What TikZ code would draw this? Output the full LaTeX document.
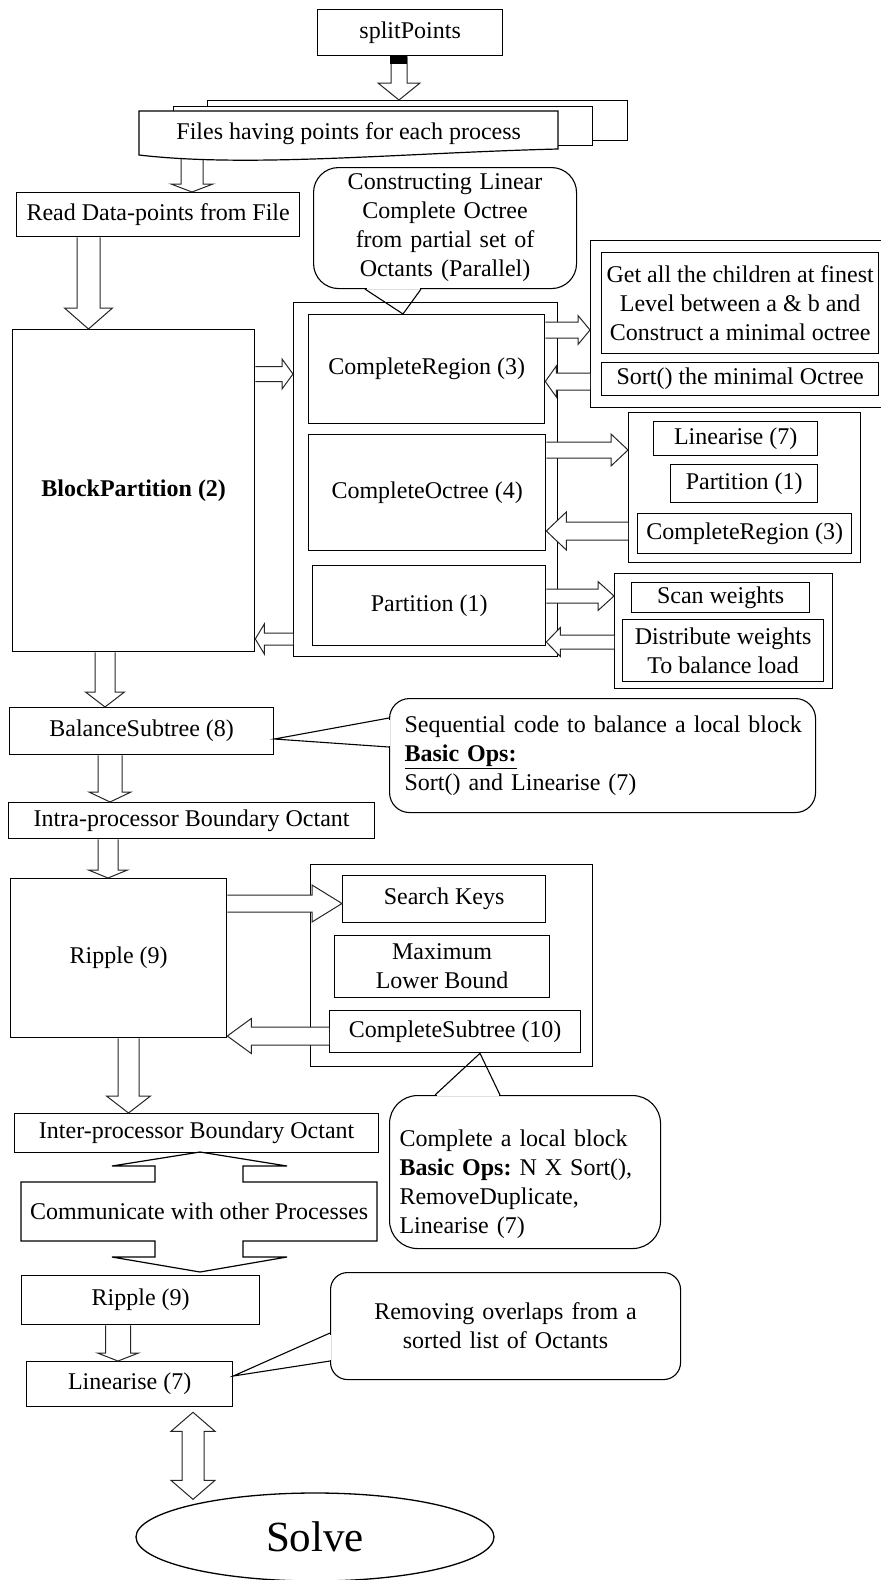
\documentclass[tikz,border=0pt]{standalone}
\usepackage{fontspec}
\setmainfont{Liberation Serif}
\usetikzlibrary{calc,shapes.geometric}
\newcommand\fs{\fontsize{24}{29}\selectfont\frenchspacing}
\tikzset{
  bx/.style={draw, line width=1.3pt, fill=white, inner sep=0pt, anchor=north west, align=center, font=\fs},
  contbox/.style={draw, line width=1.3pt, inner sep=0pt, anchor=north west},
  blk/.style={draw=black!85, line width=1pt, fill=white, line join=miter},
  cout/.style={draw, line width=1.1pt, fill=white, inner ysep=0pt, anchor=north west, font=\fs},
  ptr/.style={line width=1.1pt},
}
% hollow block arrow: from, to, shaft half width, head half width, head length
\newcommand\barrow[5]{%
  \draw[blk] let \p1=(#1), \p2=(#2), \n1={veclen(\x2-\x1,\y2-\y1)},
    \n2={(\x2-\x1)/\n1}, \n3={(\y2-\y1)/\n1} in
  ({\x1-(\n3)*#3},{\y1+(\n2)*#3}) --
  ({\x2-(\n2)*#5-(\n3)*#3},{\y2-(\n3)*#5+(\n2)*#3}) --
  ({\x2-(\n2)*#5-(\n3)*#4},{\y2-(\n3)*#5+(\n2)*#4}) --
  (\x2,\y2) --
  ({\x2-(\n2)*#5+(\n3)*#4},{\y2-(\n3)*#5-(\n2)*#4}) --
  ({\x2-(\n2)*#5+(\n3)*#3},{\y2-(\n3)*#5-(\n2)*#3}) --
  ({\x1+(\n3)*#3},{\y1-(\n2)*#3});
}
% double-headed block arrow
\newcommand\dbarrow[5]{%
  \draw[blk] let \p1=(#1), \p2=(#2), \n1={veclen(\x2-\x1,\y2-\y1)},
    \n2={(\x2-\x1)/\n1}, \n3={(\y2-\y1)/\n1} in
  (\x1,\y1) --
  ({\x1+(\n2)*#5-(\n3)*#4},{\y1+(\n3)*#5+(\n2)*#4}) --
  ({\x1+(\n2)*#5-(\n3)*#3},{\y1+(\n3)*#5+(\n2)*#3}) --
  ({\x2-(\n2)*#5-(\n3)*#3},{\y2-(\n3)*#5+(\n2)*#3}) --
  ({\x2-(\n2)*#5-(\n3)*#4},{\y2-(\n3)*#5+(\n2)*#4}) --
  (\x2,\y2) --
  ({\x2-(\n2)*#5+(\n3)*#4},{\y2-(\n3)*#5-(\n2)*#4}) --
  ({\x2-(\n2)*#5+(\n3)*#3},{\y2-(\n3)*#5-(\n2)*#3}) --
  ({\x1+(\n2)*#5+(\n3)*#3},{\y1+(\n3)*#5-(\n2)*#3}) --
  ({\x1+(\n2)*#5+(\n3)*#4},{\y1+(\n3)*#5-(\n2)*#4}) -- cycle;
}
\begin{document}
\begin{tikzpicture}[x=1pt,y=-1pt]
\fill[white] (0,0) rectangle (881,1580);
\useasboundingbox (0,0) rectangle (881,1580);

% ---------- containers ----------
\node[contbox, minimum width=264, minimum height=354] (cont1) at (293,302) {};
\node[contbox, minimum width=292, minimum height=167] (trc) at (590,240) {};
\node[contbox, minimum width=232, minimum height=150] (mrc) at (628,412) {};
\node[contbox, minimum width=218, minimum height=115] (brc) at (614,573) {};
\node[contbox, minimum width=282, minimum height=202] (cont3) at (310,864) {};

% ---------- boxes ----------
\node[bx, minimum width=185, minimum height=46] (split) at (317,9) {splitPoints};
\node[bx, minimum width=283, minimum height=44] (read) at (16,192) {Read Data-points from File};
\node[bx, minimum width=242, minimum height=322] (block) at (12,329) {\textbf{BlockPartition (2)}};
\node[bx, minimum width=236, minimum height=109] (creg) at (308,314) {CompleteRegion (3)};
\node[bx, minimum width=237, minimum height=116] (coct) at (308,434) {CompleteOctree (4)};
\node[bx, minimum width=233, minimum height=80] (part) at (312,565) {Partition (1)};
\node[bx, minimum width=277, minimum height=101] (getall) at (601,252) {Get all the children at finest\\Level between a \& b and\\Construct a minimal octree};
\node[bx, minimum width=277, minimum height=33] (sortmin) at (601,362) {Sort() the minimal Octree};
\node[bx, minimum width=164, minimum height=34] (lin1) at (653,421) {Linearise (7)};
\node[bx, minimum width=147, minimum height=38] (part2) at (670,464) {Partition (1)};
\node[bx, minimum width=214, minimum height=40] (creg2) at (637,513) {CompleteRegion (3)};
\node[bx, minimum width=178, minimum height=30] (scan) at (631,582) {Scan weights};
\node[bx, minimum width=201, minimum height=62] (dist) at (622,619) {Distribute weights\\To balance load};
\node[bx, minimum width=264, minimum height=47] (balance) at (9,707) {BalanceSubtree (8)};
\node[bx, minimum width=366, minimum height=36] (intra) at (8,802) {Intra-processor Boundary Octant};
\node[bx, minimum width=216, minimum height=159] (ripple) at (10,878) {Ripple (9)};
\node[bx, minimum width=203, minimum height=47] (search) at (342,875) {Search Keys};
\node[bx, minimum width=215, minimum height=62] (maxlb) at (334,935) {Maximum\\Lower Bound};
\node[bx, minimum width=251, minimum height=42] (csub) at (329,1010) {CompleteSubtree (10)};
\node[bx, minimum width=364, minimum height=39] (inter) at (14,1113) {Inter-processor Boundary Octant};
\node[bx, minimum width=238, minimum height=49] (ripple2) at (21,1275) {Ripple (9)};
\node[bx, minimum width=206, minimum height=45] (lin) at (26,1361) {Linearise (7)};
\node[draw, line width=1.3pt, ellipse, inner sep=0pt, minimum width=358, minimum height=88,
      font=\fontsize{43}{50}\selectfont] (solve) at (315,1537) {Solve};

% ---------- files stack ----------
\node[draw, line width=1.1pt, fill=white, inner sep=0pt, anchor=north west,
      minimum width=420, minimum height=40] (files3) at (207,100) {};
\node[draw, line width=1.1pt, fill=white, inner sep=0pt, anchor=north west,
      minimum width=419, minimum height=39] (files2) at (173,106) {};

% ---------- block arrows ----------
\barrow{split.south -| 399,0}{files3.north -| 399,0}{8}{21}{17}
\fill (split.south -| 390,0) rectangle (407,64);
\coordinate (fw) at (192,150);
\barrow{fw}{read.north -| 192,0}{11}{21}{8}
\barrow{read.south -| 88.5,0}{block.north -| 88.5,0}{11.5}{24}{21}
\barrow{block.east |- 0,374}{cont1.west |- 0,374}{7.5}{15}{11}
\barrow{cont1.west |- 0,639}{block.east |- 0,639}{6}{15}{9}
\barrow{creg.east |- 0,330}{trc.west |- 0,330}{8}{14.5}{12}
\barrow{trc.west |- 0,381.5}{creg.east |- 0,381.5}{8.5}{15.5}{11}
\barrow{coct.east |- 0,450}{mrc.west |- 0,450}{8}{16}{17}
\barrow{mrc.west |- 0,531}{coct.east |- 0,531}{9}{19}{20}
\barrow{part.east |- 0,596}{brc.west |- 0,596}{7}{14.5}{16}
\barrow{brc.west |- 0,642}{part.east |- 0,642}{7}{14.5}{14}
\barrow{block.south -| 105,0}{balance.north -| 105,0}{10}{19.5}{15}
\barrow{balance.south -| 110,0}{intra.north -| 110,0}{12}{21}{10}
\barrow{intra.south -| 108,0}{ripple.north -| 108,0}{10}{19.5}{8}
\barrow{ripple.east |- 0,903.5}{search.west |- 0,903.5}{8.5}{18.5}{30}
\barrow{csub.west |- 0,1036}{ripple.east |- 0,1036}{9}{17.5}{24}
\barrow{ripple.south -| 128.5,0}{inter.north -| 128.5,0}{10.5}{22}{17}
\barrow{ripple2.south -| 118,0}{lin.north -| 118,0}{12.5}{20.5}{8}
\dbarrow{$(lin.south -| 193,0)+(0,5)$}{$(solve.north -| 193,0)+(0,7)$}{11}{22}{19}

% ---------- files front page ----------
\draw[line width=1.2pt, fill=white] (139,111) -- (558,111) -- (558,149)
   .. controls (400,153) and (250,168) .. (139,155) -- cycle;
\node[inner sep=0pt, anchor=north west, minimum width=419, minimum height=40, font=\fs]
   (files) at (139,113) {Files having points for each process};

% ---------- communicate (up-down arrow box) ----------
\node[inner sep=0pt, anchor=north west, minimum width=356, minimum height=59, font=\fs]
   (comm) at (21,1182) {Communicate with other Processes};
\draw[line width=1.2pt] (21,1182) -- (155,1182) -- (155,1166) -- (112,1166) -- (200,1152)
   -- (287,1166) -- (243,1166) -- (243,1182) -- (377,1182) -- (377,1241) -- (243,1241)
   -- (243,1257) -- (287,1257) -- (200,1272) -- (112,1257) -- (155,1257) -- (155,1241)
   -- (21,1241) -- cycle;

% ---------- callouts ----------
\node[cout, rounded corners=25, minimum width=263, minimum height=121, inner xsep=5pt,
      text width=253, align=center] (c1) at (313,167)
  {Constructing Linear\\Complete Octree\\from partial set of\\Octants (Parallel)};
\node[cout, rounded corners=20, minimum height=114, inner xsep=15pt,
      text width=396, align=left] (c2) at (389,698)
  {\mbox{Sequential code to balance a local block}\\\textbf{\underline{Basic Ops:}}\\Sort() and Linearise (7)};
\node[cout, rounded corners=28, minimum height=153, inner xsep=10pt,
      text width=251, align=left] (c3) at (389,1095)
  {\rule{0pt}{41pt}Complete a local block\\\mbox{\textbf{Basic Ops:} N X Sort(),}\\RemoveDuplicate,\\Linearise (7)};
\node[cout, rounded corners=17, minimum height=107, inner xsep=5pt,
      text width=340, align=center] (c4) at (330,1272)
  {Removing overlaps from a\\sorted list of Octants};

% pointers
\fill[white] (366.5,286.8) rectangle (419.5,289.2);
\draw[ptr] (c1.south -| 365,0) -- (creg.north -| 403,0) -- (c1.south -| 421,0);
\fill[white] (387.8,719.5) rectangle (390.2,745.5);
\draw[ptr] (c2.west |- 0,718) -- (balance.east |- 0,739) -- (c2.west |- 0,747);
\fill[white] (436.5,1093.8) rectangle (498.5,1096.2);
\draw[ptr] (c3.north -| 435,0) -- (csub.south -| 480,0) -- (c3.north -| 500,0);
\fill[white] (328.8,1334.5) rectangle (331.2,1359.5);
\draw[ptr] (c4.west |- 0,1333) -- (lin.east |- 0,1376) -- (c4.west |- 0,1361);
\end{tikzpicture}
\end{document}
